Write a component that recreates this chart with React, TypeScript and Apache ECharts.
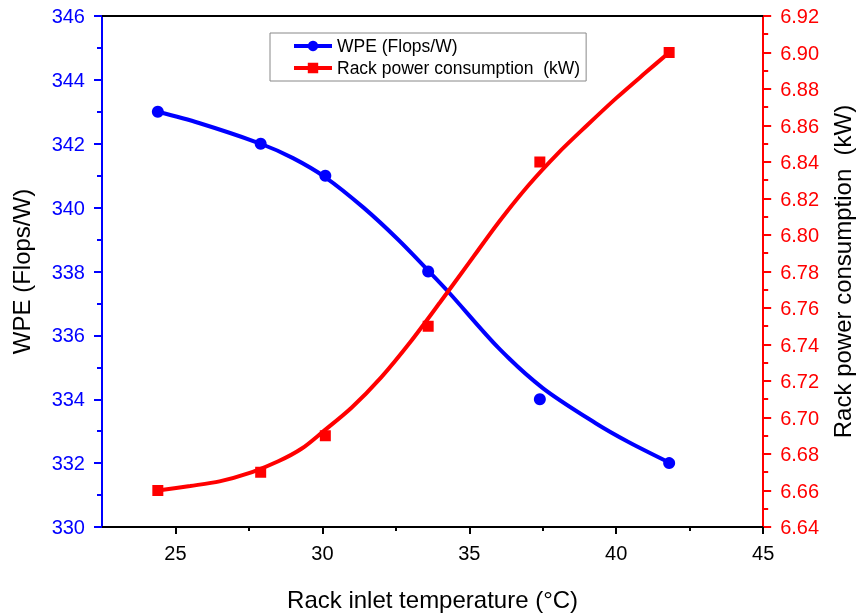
import React, { useEffect, useRef } from "react";
import * as echarts from "echarts";

// Measured points
const temps = [24.4, 27.9, 30.1, 33.6, 37.4, 41.8];
const wpeValues = [343, 342, 341, 338, 334, 332];
const powerValues = [6.66, 6.67, 6.69, 6.75, 6.84, 6.9];

// Fitted curves
const wpeFitTemps = [24.4, 25.8, 27.9, 29.0, 30.1, 31.4, 32.6, 33.6, 34.3, 36.0, 37.5, 39.3, 40.4, 41.8];
const wpeFitValues = [343.0, 342.65, 342.0, 341.55, 340.95, 340.0, 338.98, 338.03, 337.35, 335.6, 334.35, 333.25, 332.67, 332.02];
const powerFitTemps = [24.4, 25.5, 26.5, 27.5, 28.5, 29.3, 30.0, 31.0, 32.0, 33.0, 34.0, 35.0, 36.0, 37.0, 38.0, 39.0, 40.0, 41.0, 41.8];
const powerFitValues = [6.66, 6.6625, 6.665, 6.6695, 6.676, 6.683, 6.692, 6.7055, 6.722, 6.7415, 6.763, 6.785, 6.807, 6.827, 6.8445, 6.86, 6.875, 6.889, 6.9];

const xMajorTicks = [25, 30, 35, 40, 45];
const xMinorTicks = [27.5, 32.5, 37.5, 42.5];

const BLUE = "#0000ff";
const RED = "#ff0000";
const FONT = "Liberation Sans, Arial, sans-serif";

export default function App() {
  const ref = useRef<HTMLDivElement>(null);
  useEffect(() => {
    if (!ref.current) return;
    const chart = echarts.init(ref.current, null, { renderer: "svg" });
    const zip = (a: number[], b: number[]) => a.map((v, i) => [v, b[i]]);
    chart.setOption({
      animation: false,
      textStyle: { fontFamily: FONT },
      grid: { left: 102, right: 96, top: 16, bottom: 89 },
      legend: {
        orient: "vertical",
        left: 270,
        top: 33,
        padding: [3, 6, 3, 22],
        borderColor: "#888",
        borderWidth: 1,
        itemWidth: 38,
        itemHeight: 13,
        itemGap: 2,
        lineStyle: { width: 4 },
        textStyle: { fontSize: 17.5, lineHeight: 20, color: "#000", fontFamily: FONT },
        data: ["WPE (Flops/W)", "Rack power consumption  (kW)"],
      },
      xAxis: [
        {
          type: "value",
          position: "bottom",
          min: 22.5,
          max: 45,
          name: "Rack inlet temperature (°C)",
          nameLocation: "middle",
          nameGap: 60,
          nameTextStyle: { fontSize: 24, color: "#000", fontFamily: FONT },
          axisLine: { show: true, lineStyle: { color: "#000", width: 2 } },
          axisTick: { show: true, customValues: xMajorTicks, length: 7, lineStyle: { color: "#000", width: 2 } },
          axisLabel: { customValues: xMajorTicks, fontSize: 20, color: "#000", margin: 16, fontFamily: FONT },
          splitLine: { show: false },
        },
        {
          type: "value",
          position: "bottom",
          min: 22.5,
          max: 45,
          axisLine: { show: false },
          axisTick: { show: true, customValues: xMinorTicks, length: 4, lineStyle: { color: "#000", width: 2 } },
          axisLabel: { show: false },
          splitLine: { show: false },
        },
        {
          type: "value",
          position: "top",
          min: 22.5,
          max: 45,
          axisLine: { show: true, lineStyle: { color: "#000", width: 2 } },
          axisTick: { show: false },
          axisLabel: { show: false },
          splitLine: { show: false },
        },
      ],
      yAxis: [
        {
          type: "value",
          position: "left",
          min: 330,
          max: 346,
          interval: 2,
          name: "WPE (Flops/W)",
          nameLocation: "middle",
          nameRotate: 90,
          nameGap: 69,
          nameTextStyle: { fontSize: 24, color: "#000", fontFamily: FONT },
          axisLine: { show: true, lineStyle: { color: BLUE, width: 2 } },
          axisTick: { show: true, length: 8, lineStyle: { color: BLUE, width: 2 } },
          minorTick: { show: true, splitNumber: 2, length: 5, lineStyle: { color: BLUE, width: 2 } },
          axisLabel: { fontSize: 20, color: BLUE, margin: 17, fontFamily: FONT },
          splitLine: { show: false },
        },
        {
          type: "value",
          position: "right",
          min: 6.64,
          max: 6.92,
          interval: 0.02,
          name: "Rack power consumption  (kW)",
          nameLocation: "middle",
          nameRotate: 90,
          nameGap: 60,
          nameTextStyle: { fontSize: 24, color: "#000", fontFamily: FONT },
          axisLine: { show: true, lineStyle: { color: RED, width: 2 } },
          axisTick: { show: true, length: 8, lineStyle: { color: RED, width: 2 } },
          minorTick: { show: true, splitNumber: 2, length: 5, lineStyle: { color: RED, width: 2 } },
          axisLabel: {
            fontSize: 20,
            color: RED,
            margin: 17,
            fontFamily: FONT,
            formatter: (v: number) => v.toFixed(2),
          },
          splitLine: { show: false },
        },
      ],
      series: [
        {
          name: "WPE (Flops/W)",
          type: "line",
          xAxisIndex: 0,
          yAxisIndex: 0,
          data: zip(wpeFitTemps, wpeFitValues),
          smooth: 0.3,
          symbol: "circle",
          symbolSize: 11,
          showSymbol: false,
          lineStyle: { color: BLUE, width: 4 },
          itemStyle: { color: BLUE },
          z: 2,
        },
        {
          name: "Rack power consumption  (kW)",
          type: "line",
          xAxisIndex: 0,
          yAxisIndex: 1,
          data: zip(powerFitTemps, powerFitValues),
          smooth: 0.3,
          symbol: "rect",
          symbolSize: 10,
          showSymbol: false,
          lineStyle: { color: RED, width: 4 },
          itemStyle: { color: RED },
          z: 2,
        },
        {
          name: "WPE (Flops/W)",
          type: "scatter",
          xAxisIndex: 0,
          yAxisIndex: 0,
          data: zip(temps, wpeValues),
          symbol: "circle",
          symbolSize: 12,
          itemStyle: { color: BLUE, opacity: 1 },
          z: 3,
        },
        {
          name: "Rack power consumption  (kW)",
          type: "scatter",
          xAxisIndex: 0,
          yAxisIndex: 1,
          data: zip(temps, powerValues),
          symbol: "rect",
          symbolSize: 11,
          itemStyle: { color: RED, opacity: 1 },
          z: 3,
        },
      ],
    });
    return () => chart.dispose();
  }, []);
  return <div ref={ref} style={{ position: "fixed", left: 0, top: 0, width: 862, height: 616 }} />;
}
